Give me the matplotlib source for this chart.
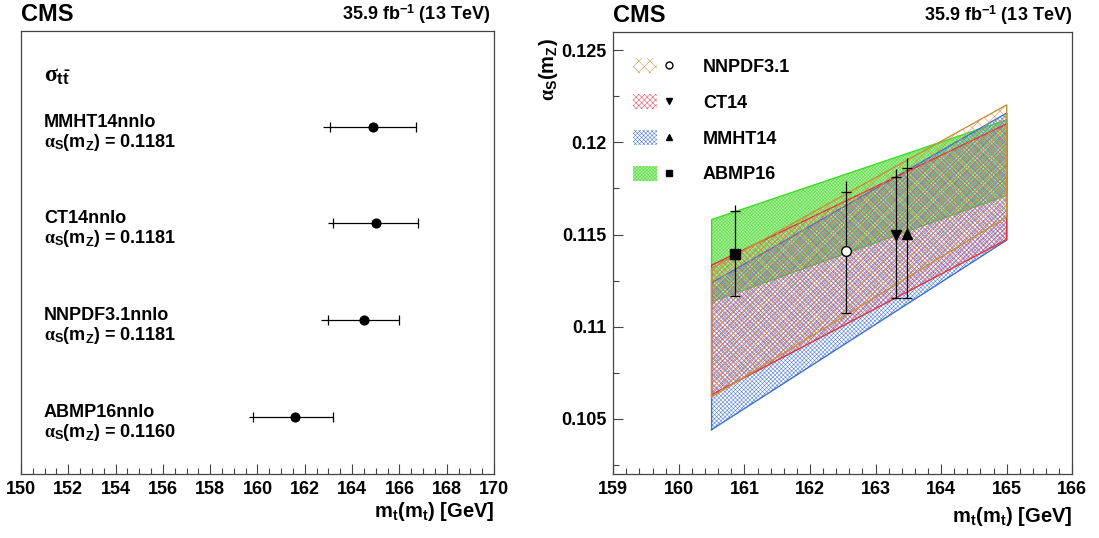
import matplotlib
matplotlib.use("Agg")
import matplotlib.pyplot as plt
from matplotlib.patches import Patch
from matplotlib.lines import Line2D
from matplotlib.legend_handler import HandlerTuple
from matplotlib.ticker import MultipleLocator, FuncFormatter

plt.rcParams["font.family"] = ["Liberation Sans", "DejaVu Sans"]
plt.rcParams["font.weight"] = "bold"
plt.rcParams["mathtext.fontset"] = "custom"
plt.rcParams["mathtext.rm"] = "Liberation Serif"
plt.rcParams["mathtext.it"] = "Liberation Serif"
plt.rcParams["mathtext.bf"] = "Liberation Sans:bold"
plt.rcParams["hatch.linewidth"] = 0.4

# --- left panel: m_t(m_t) from sigma_tt for each PDF set ---
pdf_left = ["MMHT14nnlo", "CT14nnlo", "NNPDF3.1nnlo", "ABMP16nnlo"]
alphas_left = ["0.1181", "0.1181", "0.1181", "0.1160"]
row_left = [4, 3, 2, 1]
mt_left = [164.90, 165.00, 164.50, 161.57]
mt_line_lo = [162.78, 162.97, 162.68, 159.64]
mt_cap_lo = [163.07, 163.18, 162.99, 159.81]
mt_cap_hi = [166.70, 166.80, 166.00, 163.18]

# --- right panel: alpha_S(m_Z) vs m_t(m_t) ---
pdf_right = ["NNPDF3.1", "CT14", "MMHT14", "ABMP16"]
mt_right = [162.553, 163.318, 163.482, 160.853]
as_right = [0.11410, 0.11496, 0.11502, 0.11397]
as_line_hi = [0.11788, 0.11857, 0.11916, 0.11658]
as_cap_hi = [0.11730, 0.11811, 0.11862, 0.11626]
as_cap_lo = [0.11076, 0.11154, 0.11154, 0.11167]

band_mt = [160.5, 165.0]
nnpdf_lo = [0.10619, 0.11595]
nnpdf_hi = [0.11316, 0.12203]
ct14_lo = [0.10631, 0.11473]
ct14_hi = [0.11334, 0.12100]
mmht_lo = [0.10442, 0.11470]
mmht_hi = [0.11238, 0.12159]
abmp_lo = [0.11136, 0.11712]
abmp_hi = [0.11581, 0.12122]

COR_NNPDF = "#c98f3c"
COR_CT14 = "#e2323f"
COR_MMHT = "#3f6fd2"
COR_ABMP = "#3fdc26"
HATCH_NNPDF = "#d39a55"
HATCH_CT14 = "#e65866"
HATCH_MMHT = "#5a84da"
HATCH_ABMP = "#5cdc48"
FILL_ABMP = "#b0f0a0"
FRAME = "#444444"
FS = 13

fig = plt.figure(figsize=(10.99, 5.38), dpi=100)
ax1 = fig.add_axes([0.0191, 0.119, 0.4304, 0.8234])
ax2 = fig.add_axes([0.558, 0.1184, 0.4177, 0.8227])

for ax in (ax1, ax2):
    for spine in ax.spines.values():
        spine.set_linewidth(0.9)
        spine.set_color(FRAME)
    ax.tick_params(which="both", direction="in", labelsize=FS, width=0.8,
                   color=FRAME, pad=5)
    ax.tick_params(which="major", length=7.5)
    ax.tick_params(which="minor", length=4)

# ---------------- left panel ----------------
ax1.set_xlim(150, 170)
ax1.set_ylim(0.41, 4.99)
ax1.set_yticks([])
ax1.xaxis.set_major_locator(MultipleLocator(2))
ax1.xaxis.set_minor_locator(MultipleLocator(0.5))
ax1.xaxis.set_major_formatter(FuncFormatter(lambda v, p: f"{v:.0f}"))

ax1.hlines(row_left, mt_line_lo, mt_cap_hi, color="black", lw=0.9, zorder=2)
ax1.plot(mt_cap_lo, row_left, ls="none", marker="|", ms=6.5, mew=0.9,
         color="black", zorder=2)
ax1.plot(mt_cap_hi, row_left, ls="none", marker="|", ms=6.5, mew=0.9,
         color="black", zorder=2)
ax1.plot(mt_left, row_left, ls="none", marker="o", ms=6.3, color="black",
         zorder=3)

trans = ax1.get_yaxis_transform()
for nome, a_s, y in zip(pdf_left, alphas_left, row_left):
    ax1.text(0.0486, y, nome, transform=trans, fontsize=FS, fontweight="bold",
             ha="left", va="baseline")
    ax1.text(0.0486, y - 0.205,
             r"$\alpha_{\mathbf{S}}\mathbf{(m_{Z})}$ = " + a_s,
             transform=trans, fontsize=FS, fontweight="bold",
             ha="left", va="baseline")
ax1.text(0.0486, 0.885, r"$\sigma_{\mathbf{t\bar{t}}}$", transform=ax1.transAxes,
         fontsize=17, ha="left", va="baseline")

# ---------------- right panel ----------------
ax2.set_xlim(159, 166)
ax2.set_ylim(0.102, 0.126)
ax2.xaxis.set_major_locator(MultipleLocator(1))
ax2.xaxis.set_minor_locator(MultipleLocator(0.2))
ax2.yaxis.set_major_locator(MultipleLocator(0.005))
ax2.yaxis.set_minor_locator(MultipleLocator(0.0025))
ax2.xaxis.set_major_formatter(FuncFormatter(lambda v, p: f"{v:.0f}"))
ax2.yaxis.set_major_formatter(FuncFormatter(lambda v, p: f"{v:g}"))

bandas = [
    (abmp_lo, abmp_hi, COR_ABMP, FILL_ABMP, HATCH_ABMP, "xxxxxxxxxx", 1),
    (mmht_lo, mmht_hi, COR_MMHT, "none", HATCH_MMHT, "xxxxxxxx", 2),
    (ct14_lo, ct14_hi, COR_CT14, "none", HATCH_CT14, "xxxxxx", 3),
    (nnpdf_lo, nnpdf_hi, COR_NNPDF, "none", HATCH_NNPDF, "xxx", 4),
]
for lo, hi, cor, face, cor_hatch, hatch, z in bandas:
    ax2.fill_between(band_mt, lo, hi, facecolor=face, edgecolor=cor_hatch,
                     hatch=hatch, linewidth=0, zorder=z)
    ax2.plot([band_mt[0], band_mt[1], band_mt[1], band_mt[0], band_mt[0]],
             [lo[0], lo[1], hi[1], hi[0], lo[0]], color=cor, lw=1.0, zorder=z)

ax2.vlines(mt_right, as_cap_lo, as_line_hi, color="black", lw=0.9, zorder=6)
ax2.plot(mt_right, as_cap_lo, ls="none", marker="_", ms=7, mew=0.9,
         color="black", zorder=6)
ax2.plot(mt_right, as_cap_hi, ls="none", marker="_", ms=7, mew=0.9,
         color="black", zorder=6)
marcadores = ["o", "v", "^", "s"]
for x, y, m in zip(mt_right, as_right, marcadores):
    face = "white" if m == "o" else "black"
    ax2.plot([x], [y], ls="none", marker=m, ms=7, mfc=face, mec="black",
             mew=1.0, color="black", zorder=7)

# legenda
handles = [
    (Patch(facecolor="none", edgecolor=HATCH_NNPDF, hatch="xxx", lw=0),
     Line2D([], [], ls="none", marker="o", ms=5, mfc="white", mec="black")),
    (Patch(facecolor="none", edgecolor=HATCH_CT14, hatch="xxxxxx", lw=0),
     Line2D([], [], ls="none", marker="v", ms=5, color="black")),
    (Patch(facecolor="none", edgecolor=HATCH_MMHT, hatch="xxxxxxxx", lw=0),
     Line2D([], [], ls="none", marker="^", ms=5, color="black")),
    (Patch(facecolor=FILL_ABMP, edgecolor=HATCH_ABMP, hatch="xxxxxxxxxx", lw=0),
     Line2D([], [], ls="none", marker="s", ms=5, color="black")),
]
ax2.legend(handles, pdf_right, handler_map={tuple: HandlerTuple(ndivide=None)},
           loc="upper left", bbox_to_anchor=(0.0436, 0.9406), frameon=False,
           borderpad=0, borderaxespad=0, handlelength=2.65, handleheight=0.92,
           handletextpad=1.2, labelspacing=1.0,
           prop={"size": FS, "weight": "bold"})

ax2.text(-0.14, 0.986, r"$\alpha_{\mathbf{S}}\mathbf{(m_{Z})}$", transform=ax2.transAxes,
         fontsize=14.5, rotation=90, ha="center", va="top")

# titulos e eixos
for ax, x_lumi, y_lab in ((ax1, 0.9915, -0.0964), (ax2, 1.0, -0.107)):
    ax.text(0.0, 1.022, "CMS", transform=ax.transAxes, fontsize=17,
            fontweight="bold", ha="left", va="baseline")
    ax.text(x_lumi, 1.025, r"35.9 fb$^{\mathbf{-1}}$ (13 TeV)", transform=ax.transAxes,
            fontsize=13, fontweight="bold", ha="right", va="baseline")
    ax.text(1.0, y_lab, r"$\mathbf{m_{t}(m_{t})}$ [GeV]", transform=ax.transAxes,
            fontsize=14.5, fontweight="bold", ha="right", va="baseline")

fig.savefig("out.png", dpi=100)
